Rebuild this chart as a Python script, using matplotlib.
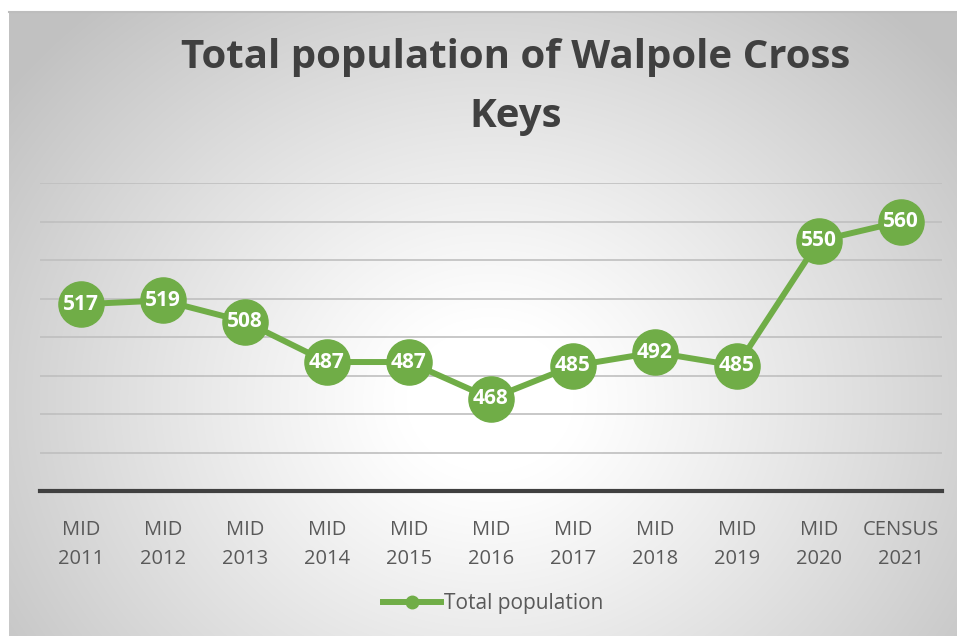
import numpy as np
import matplotlib
matplotlib.use("Agg")
import matplotlib.pyplot as plt
from matplotlib.lines import Line2D

categories = ["MID\n2011", "MID\n2012", "MID\n2013", "MID\n2014", "MID\n2015", "MID\n2016",
              "MID\n2017", "MID\n2018", "MID\n2019", "MID\n2020", "CENSUS\n2021"]
population = [517, 519, 508, 487, 487, 468, 485, 492, 485, 550, 560]
series_name = "Total population"
title = "Total population of Walpole Cross\nKeys"

W, H = 957, 636
fig = plt.figure(figsize=(W / 100, H / 100), dpi=100)
fig.patch.set_facecolor("white")

# radial gradient background
bg = fig.add_axes([9 / W, 0, 1 - 9 / W, 1 - 12 / H], zorder=-5)
bg.set_axis_off()
yy, xx = np.mgrid[12:H, 9:W]
cx, cy = 490, 400
r = np.sqrt(((xx - cx) / 600.0) ** 2 + ((yy - cy) / 520.0) ** 2)
t = np.clip((r - 0.14) / 0.86, 0, 1)
val = 1 - 0.24 * t ** 1.1
img = np.dstack([val, val, val])
bg.imshow(img, aspect="auto", extent=[0, 1, 0, 1], origin="upper", interpolation="bilinear")
bg.set_xlim(0, 1)
bg.set_ylim(0, 1)
bg.plot([0, 1], [1, 1], color="#bdbdbd", lw=1.5, transform=bg.transAxes, clip_on=False)

ax = fig.add_axes([40 / W, 1 - 491 / H, 902 / W, (491 - 183) / H])
ax.patch.set_alpha(0)
x = np.arange(len(categories))
green = "#70AD47"
ax.plot(x, population, color=green, lw=4.3, marker="o", markersize=32.5,
        markerfacecolor=green, markeredgecolor=green, zorder=3, clip_on=False)
for xi, v in zip(x, population):
    ax.text(xi, v, str(v), ha="center", va="center", color="white",
            fontsize=15, fontweight="bold", family="Open Sans", zorder=4)

ax.set_xlim(-0.5, len(categories) - 0.5)
ax.set_ylim(420, 580)
ax.set_yticks(np.arange(420, 581, 20))
ax.yaxis.grid(True, color="#bfbfbf", lw=1.2)
ax.set_axisbelow(True)
ax.tick_params(axis="y", left=False, labelleft=False)
ax.tick_params(axis="x", length=0, pad=21)
ax.set_xticks(x)
ax.set_xticklabels(categories, fontsize=14.5, color="#595959", family="Open Sans", linespacing=1.6)
for s in ["top", "right", "left"]:
    ax.spines[s].set_visible(False)
ax.spines["bottom"].set_color("#404040")
ax.spines["bottom"].set_linewidth(3)
ax.spines["bottom"].set_zorder(2)

fig.text(516 / W, 1 - 38 / H, title, ha="center", va="top", fontsize=29,
         fontweight="bold", color="#404040", family="Open Sans", linespacing=1.68)

handle = Line2D([], [], color=green, lw=4.3, marker="o", markersize=9)
leg = fig.legend([handle], [series_name], loc="center", bbox_to_anchor=(493 / W, 1 - 604 / H),
                 frameon=False, fontsize=15, handlelength=2.8, handletextpad=0.15)
for tx in leg.get_texts():
    tx.set_color("#595959")
    tx.set_family("Open Sans")

fig.savefig("out.png", dpi=100)
